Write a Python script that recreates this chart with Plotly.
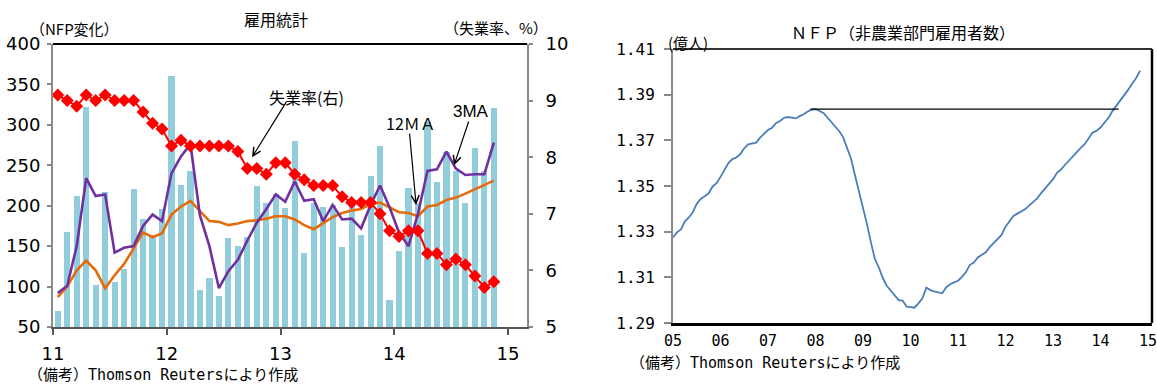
import plotly.graph_objects as go
import pandas as pd

# ---------------- Left chart data (Jan 2011 - Nov 2014) ----------------
months_left = pd.date_range("2011-01", periods=47, freq="MS").strftime("%Y-%m").tolist()
nfp_change = [70, 168, 212, 322, 102, 217, 106, 122, 221, 183, 164, 196,
              360, 226, 243, 96, 110, 88, 160, 150, 161, 225, 203, 214,
              197, 280, 141, 203, 199, 201, 149, 202, 164, 237, 274, 84,
              144, 222, 203, 304, 229, 267, 243, 203, 271, 243, 321]
ma3 = [92, 101, 150, 234, 212, 214, 142, 148, 150, 175, 189, 181,
       240, 261, 276, 188, 150, 98, 119, 133, 157, 179, 196, 214,
       205, 230, 206, 208, 181, 201, 183, 184, 172, 201, 225, 198,
       167, 150, 190, 243, 245, 267, 246, 238, 239, 239, 278]
ma12 = [87, 100, 120, 132, 120, 98, 114, 128, 147, 167, 161, 166,
        189, 199, 206, 194, 181, 180, 176, 178, 181, 182, 184, 187,
        187, 183, 176, 171, 178, 186, 191, 194, 196, 202, 204, 198,
        192, 191, 187, 199, 201, 207, 210, 215, 220, 226, 231]
unemp = [9.1, 9.0, 8.9, 9.1, 9.0, 9.1, 9.0, 9.0, 9.0, 8.8, 8.6, 8.5,
         8.2, 8.3, 8.2, 8.2, 8.2, 8.2, 8.2, 8.1, 7.8, 7.8, 7.7, 7.9,
         7.9, 7.7, 7.6, 7.5, 7.5, 7.5, 7.3, 7.2, 7.2, 7.2, 7.0, 6.7,
         6.6, 6.7, 6.7, 6.3, 6.3, 6.1, 6.2, 6.1, 5.9, 5.7, 5.8]
left_year_ticks = ["11", "12", "13", "14", "15"]

# ---------------- Right chart data (Jan 2005 - Nov 2014), 億人 ----------------
months_right = pd.date_range("2005-01", periods=119, freq="MS").strftime("%Y-%m").tolist()
nfp_level = [
    1.3275, 1.3297, 1.3310, 1.3345, 1.3362, 1.3385, 1.3422, 1.3443, 1.3455, 1.3468, 1.3498, 1.3512,
    1.3540, 1.3568, 1.3600, 1.3618, 1.3625, 1.3640, 1.3665, 1.3682, 1.3685, 1.3690, 1.3712, 1.3728,
    1.3745, 1.3755, 1.3775, 1.3785, 1.3798, 1.3802, 1.3798, 1.3796, 1.3806, 1.3814, 1.3826, 1.3834,
    1.3837, 1.3829, 1.3820, 1.3800, 1.3780, 1.3762, 1.3740, 1.3713, 1.3665, 1.3618, 1.3545, 1.3478,
    1.3404, 1.3333, 1.3253, 1.3180, 1.3143, 1.3097, 1.3063, 1.3041, 1.3018, 1.3000, 1.2998, 1.2972,
    1.2970, 1.2967, 1.2986, 1.3008, 1.3055, 1.3044, 1.3038, 1.3034, 1.3030, 1.3056, 1.3070, 1.3078,
    1.3085, 1.3102, 1.3123, 1.3155, 1.3165, 1.3187, 1.3198, 1.3210, 1.3232, 1.3250, 1.3266, 1.3286,
    1.3322, 1.3345, 1.3369, 1.3379, 1.3390, 1.3399, 1.3415, 1.3430, 1.3446, 1.3469, 1.3489, 1.3510,
    1.3530, 1.3558, 1.3572, 1.3592, 1.3612, 1.3632, 1.3647, 1.3667, 1.3683, 1.3707, 1.3734, 1.3742,
    1.3756, 1.3778, 1.3798, 1.3828, 1.3851, 1.3878, 1.3902, 1.3922, 1.3949, 1.3973, 1.4005]
peak_level = 1.3837
peak_span = [34.7, 112.6]   # month positions (from Jan 2005) of the pre-crisis peak line
right_year_ticks = ["05", "06", "07", "08", "09", "10", "11", "12", "13", "14", "15"]
right_y_ticks = [1.29, 1.31, 1.33, 1.35, 1.37, 1.39, 1.41]

JP = "Noto Sans CJK JP"
NUM = "DejaVu Sans"
MONO = "DejaVu Sans Mono, Noto Sans CJK JP"
W, H = 1157, 386

x_left = [i + 0.5 for i in range(len(months_left))]
x_right = list(range(len(months_right)))

fig = go.Figure()
fig.add_trace(go.Bar(x=x_left, y=nfp_change, width=0.65, marker=dict(color="#92CDDC", line=dict(width=0)),
                     xaxis="x", yaxis="y", name="NFP"))
fig.add_trace(go.Scatter(x=x_left, y=ma12, mode="lines", line=dict(color="#E46C0A", width=2.6),
                         xaxis="x", yaxis="y", name="12MA"))
fig.add_trace(go.Scatter(x=x_left, y=ma3, mode="lines", line=dict(color="#7030A0", width=2.6),
                         xaxis="x", yaxis="y", name="3MA"))
fig.add_trace(go.Scatter(x=x_left, y=unemp, mode="lines+markers", line=dict(color="#FF0000", width=2),
                         marker=dict(symbol="diamond", size=10, color="#FF0000"),
                         xaxis="x", yaxis="y2", name="失業率"))
fig.add_trace(go.Scatter(x=x_right, y=nfp_level, mode="lines", line=dict(color="#4A7EBB", width=1.8),
                         xaxis="x2", yaxis="y3", name="NFP level"))
fig.add_trace(go.Scatter(x=peak_span, y=[peak_level, peak_level], mode="lines",
                         line=dict(color="#000000", width=1.3), xaxis="x2", yaxis="y3", name="peak"))

num_font = dict(family=NUM, size=18, color="#000")
mono_font = dict(family="DejaVu Sans Mono", size=15, color="#000")

fig.update_layout(
    width=W, height=H, margin=dict(l=0, r=0, t=0, b=0, autoexpand=False),
    paper_bgcolor="white", plot_bgcolor="white", showlegend=False,
    bargap=0,
    xaxis=dict(domain=[53 / W, 527 / W], anchor="y", range=[0, 50], automargin=False,
               tickvals=[0, 12, 24, 36, 48], ticktext=left_year_ticks,
               ticks="outside", ticklen=6, tickwidth=1.5, tickcolor="#555",
               showline=True, linecolor="#555", linewidth=1.5, layer="below traces",
               showgrid=False, zeroline=False, tickfont=num_font, ticklabelstandoff=4),
    yaxis=dict(domain=[1 - 327 / H, 1 - 44 / H], anchor="x", range=[50, 400], dtick=50, automargin=False,
               ticks="outside", ticklen=4, tickwidth=1.5, tickcolor="#888",
               showline=True, linecolor="#8a8a8a", linewidth=2,
               showgrid=False, zeroline=False, tickfont=num_font, ticklabelstandoff=3),
    yaxis2=dict(overlaying="y", side="right", anchor="x", range=[5, 10], dtick=1, automargin=False,
                ticks="outside", ticklen=4, tickwidth=1.5, tickcolor="#888",
                showline=True, linecolor="#8a8a8a", linewidth=2,
                showgrid=False, zeroline=False, tickfont=num_font, ticklabelstandoff=9),
    xaxis2=dict(domain=[673 / W, 1152 / W], anchor="y3", range=[0, 121], automargin=False,
                tickvals=list(range(0, 121, 12)), ticktext=right_year_ticks,
                ticks="", showline=True, linecolor="#000", linewidth=2.5,
                showgrid=False, zeroline=False, tickfont=mono_font, ticklabelstandoff=2,
                ticklabeloverflow="allow"),
    yaxis3=dict(domain=[1 - 323 / H, 1 - 49 / H], anchor="x2", range=[1.29, 1.41], automargin=False,
                tickvals=right_y_ticks, ticktext=[f"{v:.2f}" for v in right_y_ticks],
                ticks="outside", ticklen=7, tickwidth=1.5, tickcolor="#888",
                showline=True, linecolor="#8a8a8a", linewidth=2,
                showgrid=False, zeroline=False,
                tickfont=dict(family="DejaVu Sans Mono", size=16, color="#000"), ticklabelstandoff=6),
    shapes=[
        dict(type="line", xref="x domain", yref="y domain", x0=0, x1=1, y0=1, y1=1,
             line=dict(color="#000", width=2)),
        dict(type="line", xref="x2 domain", yref="y3 domain", x0=0, x1=1, y0=1, y1=1,
             line=dict(color="#333", width=2)),
        dict(type="line", xref="x2 domain", yref="y3 domain", x0=1, x1=1, y0=0, y1=1,
             line=dict(color="#000", width=2.5)),
    ],
)

def ptext(txt, px, py, size=15, family=JP, xanchor="center"):
    fig.add_annotation(text=txt, x=px / W, y=1 - py / H, xref="paper", yref="paper",
                       showarrow=False, xanchor=xanchor, yanchor="middle",
                       font=dict(family=family, size=size, color="#000"))

ptext("雇用統計", 276, 19, 16)
ptext("（NFP変化）", 28, 28, 15, xanchor="left")
ptext("（失業率、%）", 442, 27, 15, xanchor="left")
ptext("ＮＦＰ（非農業部門雇用者数）", 789, 32, 16, xanchor="left")
ptext("(億人)", 666, 43, 15, xanchor="left")
ptext("（備考）Thomson Reutersにより作成", 26, 375, 15, family=MONO, xanchor="left")
ptext("（備考）Thomson Reutersにより作成", 628, 363, 15, family=MONO, xanchor="left")

# arrows and labels on left chart (data coordinates)
def arrow(x_head, y_head, x_tail, y_tail):
    fig.add_annotation(x=x_head, y=y_head, ax=x_tail, ay=y_tail, xref="x", yref="y",
                       axref="x", ayref="y", text="", showarrow=True, arrowhead=5,
                       arrowsize=1.3, arrowwidth=1.2, arrowcolor="#000", standoff=0, startstandoff=0)

def ltext(txt, x, y, size=16, family=JP):
    fig.add_annotation(text=txt, x=x, y=y, xref="x", yref="y", showarrow=False,
                       xanchor="center", yanchor="middle", font=dict(family=family, size=size, color="#000"))

ltext("失業率(右)", 26.7, 335, 16)
arrow(21.0, 260, 24.7, 330)
ltext("12ＭＡ", 37.8, 302, 16)
arrow(38.3, 201, 37.6, 291)
ltext("3MA", 44.1, 317, 17, family="Liberation Sans")
arrow(42.3, 250, 43.9, 306)

fig.write_html("out.html")
